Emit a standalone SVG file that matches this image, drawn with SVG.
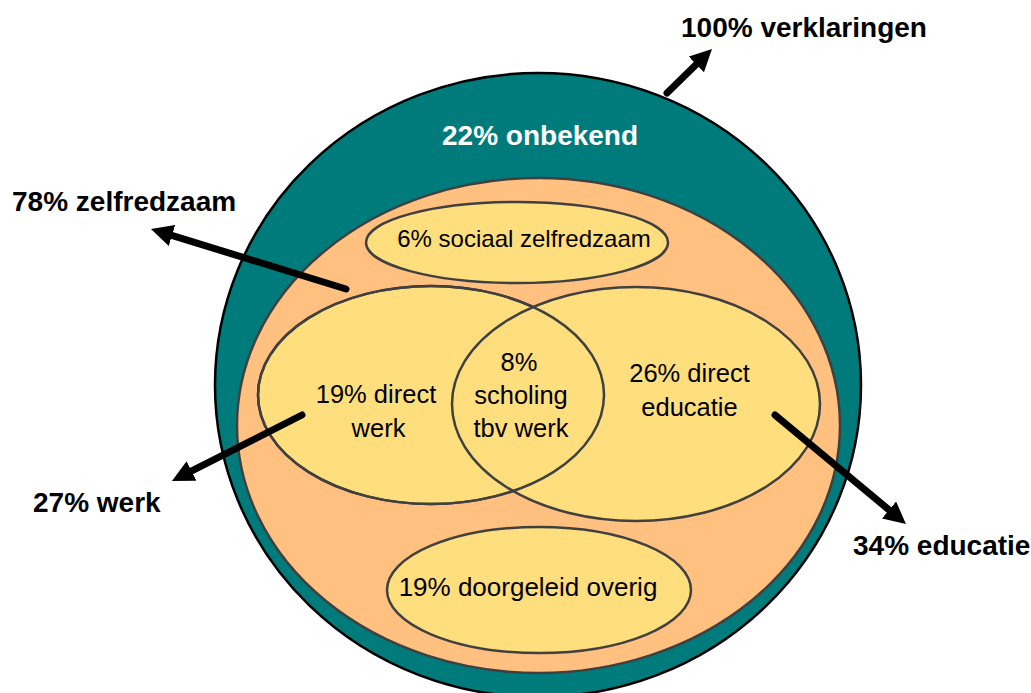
<svg xmlns="http://www.w3.org/2000/svg" width="1031" height="693" viewBox="0 0 1031 693">
<style>
.outer{fill:#007B7B;stroke:#000;stroke-width:2.5}
.mid{fill:#FFC080;stroke:#404040;stroke-width:2.5}
.inner{fill:#FFDE7E;stroke:#404040;stroke-width:2.5}
.edge{fill:none;stroke:#404040;stroke-width:2.5}
.lbl{font-family:"Liberation Sans",Arial,sans-serif;font-weight:bold;font-size:28px;fill:#000}
.w{fill:#fff}
.t{font-family:"Liberation Sans",Arial,sans-serif;font-size:25.5px;fill:#000;text-anchor:middle}
.arr{stroke:#000;stroke-width:7;stroke-linecap:round;fill:none;marker-end:url(#ah)}
</style>
<defs>
<marker id="ah" viewBox="0 0 22 22" refX="2" refY="11" markerWidth="22" markerHeight="22" markerUnits="userSpaceOnUse" orient="auto">
<path d="M0,0 L22,11 L0,22 z" fill="#000"/>
</marker>
</defs>
<rect width="1031" height="693" fill="#fff"/>
<g id="node-verklaringen">
<ellipse class="outer" cx="538" cy="385" rx="323" ry="312"/>
<text class="lbl w" x="442" y="145">22% onbekend</text>
</g>
<g id="node-zelfredzaam">
<ellipse class="mid" cx="538.5" cy="425.5" rx="301.5" ry="247.5"/>
</g>
<g id="node-sociaal">
<ellipse class="inner" cx="517" cy="242.5" rx="151" ry="40.5"/>
<text class="t" x="524" y="247" style="font-size:24px">6% sociaal zelfredzaam</text>
</g>
<g id="node-werk">
<ellipse class="inner" cx="431" cy="395" rx="173" ry="109"/>
</g>
<g id="node-educatie">
<ellipse class="inner" cx="636" cy="404" rx="184" ry="117"/>
</g>
<g id="node-overlap">
<ellipse class="edge" cx="431" cy="395" rx="173" ry="109"/>
<text class="t" x="376" y="403">19% direct</text>
<text class="t" x="378.5" y="437">werk</text>
<text class="t" x="519" y="371">8%</text>
<text class="t" x="521" y="404">scholing</text>
<text class="t" x="521" y="437">tbv werk</text>
<text class="t" x="689.5" y="382">26% direct</text>
<text class="t" x="689.5" y="416">educatie</text>
</g>
<g id="node-overig">
<ellipse class="inner" cx="539" cy="590" rx="152" ry="63"/>
<text class="t" x="528" y="596" style="font-size:26px">19% doorgeleid overig</text>
</g>
<g id="connectors">
<line class="arr" x1="667" y1="93" x2="697.7" y2="63"/>
<line class="arr" x1="346" y1="289" x2="170.1" y2="234.9"/>
<line class="arr" x1="302" y1="415" x2="189.8" y2="471.9"/>
<line class="arr" x1="775" y1="415" x2="890.6" y2="511.2"/>
</g>
<g id="labels">
<text class="lbl" x="681" y="37">100% verklaringen</text>
<text class="lbl" x="12" y="211">78% zelfredzaam</text>
<text class="lbl" x="33" y="512">27% werk</text>
<text class="lbl" x="853" y="555">34% educatie</text>
</g>
</svg>
